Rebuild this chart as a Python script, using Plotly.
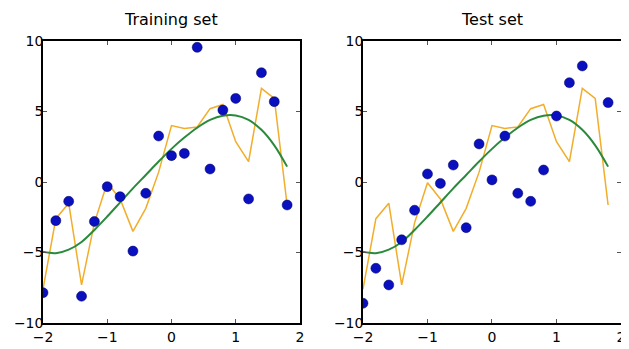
import plotly.graph_objects as go

# x grid
x_grid = [-2.0, -1.8, -1.6, -1.4, -1.2, -1.0, -0.8, -0.6, -0.4, -0.2,
          0.0, 0.2, 0.4, 0.6, 0.8, 1.0, 1.2, 1.4, 1.6, 1.8]

# Training set points
train_y = [-7.85, -2.74, -1.37, -8.1, -2.8, -0.33, -1.04, -4.9, -0.8, 3.26,
           1.87, 2.03, 9.55, 0.92, 5.1, 5.93, -1.2, 7.75, 5.7, -1.63]

# Test set points (no visible point at x=1.6)
test_x = [-2.0, -1.8, -1.6, -1.4, -1.2, -1.0, -0.8, -0.6, -0.4, -0.2,
          0.0, 0.2, 0.4, 0.6, 0.8, 1.0, 1.2, 1.4, 1.8]
test_y = [-8.6, -6.12, -7.3, -4.1, -2.0, 0.57, -0.1, 1.2, -3.24, 2.7,
          0.15, 3.26, -0.8, -1.37, 0.85, 4.68, 7.04, 8.23, 5.63]

# Overfit model (orange)
overfit_y = [-7.6, -2.6, -1.5, -7.3, -2.9, -0.05, -1.2, -3.5, -1.87, 0.7,
             4.0, 3.8, 3.9, 5.2, 5.5, 2.86, 1.44, 6.64, 5.93, -1.63]

# Smooth model (green)
smooth_y = [-4.95, -5.05, -4.8, -4.25, -3.4, -2.45, -1.45, -0.45, 0.5, 1.45,
            2.35, 3.15, 3.85, 4.4, 4.7, 4.72, 4.4, 3.7, 2.6, 1.09]

x_ticks = [-2, -1, 0, 1, 2]
y_ticks = [-10, -5, 0, 5, 10]
titles = ["Training set", "Test set"]

BLUE = "#0a10c0"
ORANGE = "#f2ad2a"
GREEN = "#2a8a3c"

fig = go.Figure()

panels = [("x", "y", x_grid, train_y), ("x2", "y2", test_x, test_y)]
for xa, ya, px, py in panels:
    fig.add_trace(go.Scatter(x=x_grid, y=overfit_y, mode="lines",
                             line=dict(color=ORANGE, width=1.5),
                             xaxis=xa, yaxis=ya, showlegend=False, hoverinfo="skip"))
    fig.add_trace(go.Scatter(x=x_grid, y=smooth_y, mode="lines",
                             line=dict(color=GREEN, width=2, shape="spline", smoothing=1.0),
                             xaxis=xa, yaxis=ya, showlegend=False, hoverinfo="skip"))
    fig.add_trace(go.Scatter(x=px, y=py, mode="markers",
                             marker=dict(color=BLUE, size=10, line=dict(color="#000060", width=0.5)),
                             xaxis=xa, yaxis=ya, showlegend=False))

axis_common = dict(showgrid=False, zeroline=False, showline=True, linecolor="black",
                   linewidth=1.5, mirror="ticks", ticks="inside", ticklen=4,
                   tickcolor="#555", automargin=False,
                   tickfont=dict(family="DejaVu Sans", size=14, color="black"))

# page body has an 8px margin, so the figure is sized and offset to compensate
fig.update_layout(
    width=621, height=341,
    margin=dict(l=35, r=8, t=33, b=26, autoexpand=False),
    paper_bgcolor="white", plot_bgcolor="white",
    xaxis=dict(domain=[0, 0.4446], range=[-2, 2], tickvals=x_ticks, anchor="y", **axis_common),
    yaxis=dict(domain=[0, 1], range=[-10, 10], tickvals=y_ticks, anchor="x",
               ticklabelstandoff=-5, **axis_common),
    xaxis2=dict(domain=[0.5536, 1], range=[-2, 2], tickvals=x_ticks, anchor="y2", **axis_common),
    yaxis2=dict(domain=[0, 1], range=[-10, 10], tickvals=y_ticks, anchor="x2",
                ticklabelstandoff=-5, **axis_common),
)

for dom, t in zip([[0, 0.4446], [0.5536, 1]], titles):
    fig.add_annotation(x=(dom[0] + dom[1]) / 2, y=1, xref="paper", yref="paper",
                       xanchor="center", yanchor="bottom", yshift=10, showarrow=False,
                       text=t, font=dict(family="DejaVu Sans", size=16, color="black"))

fig.write_html("out.html")
